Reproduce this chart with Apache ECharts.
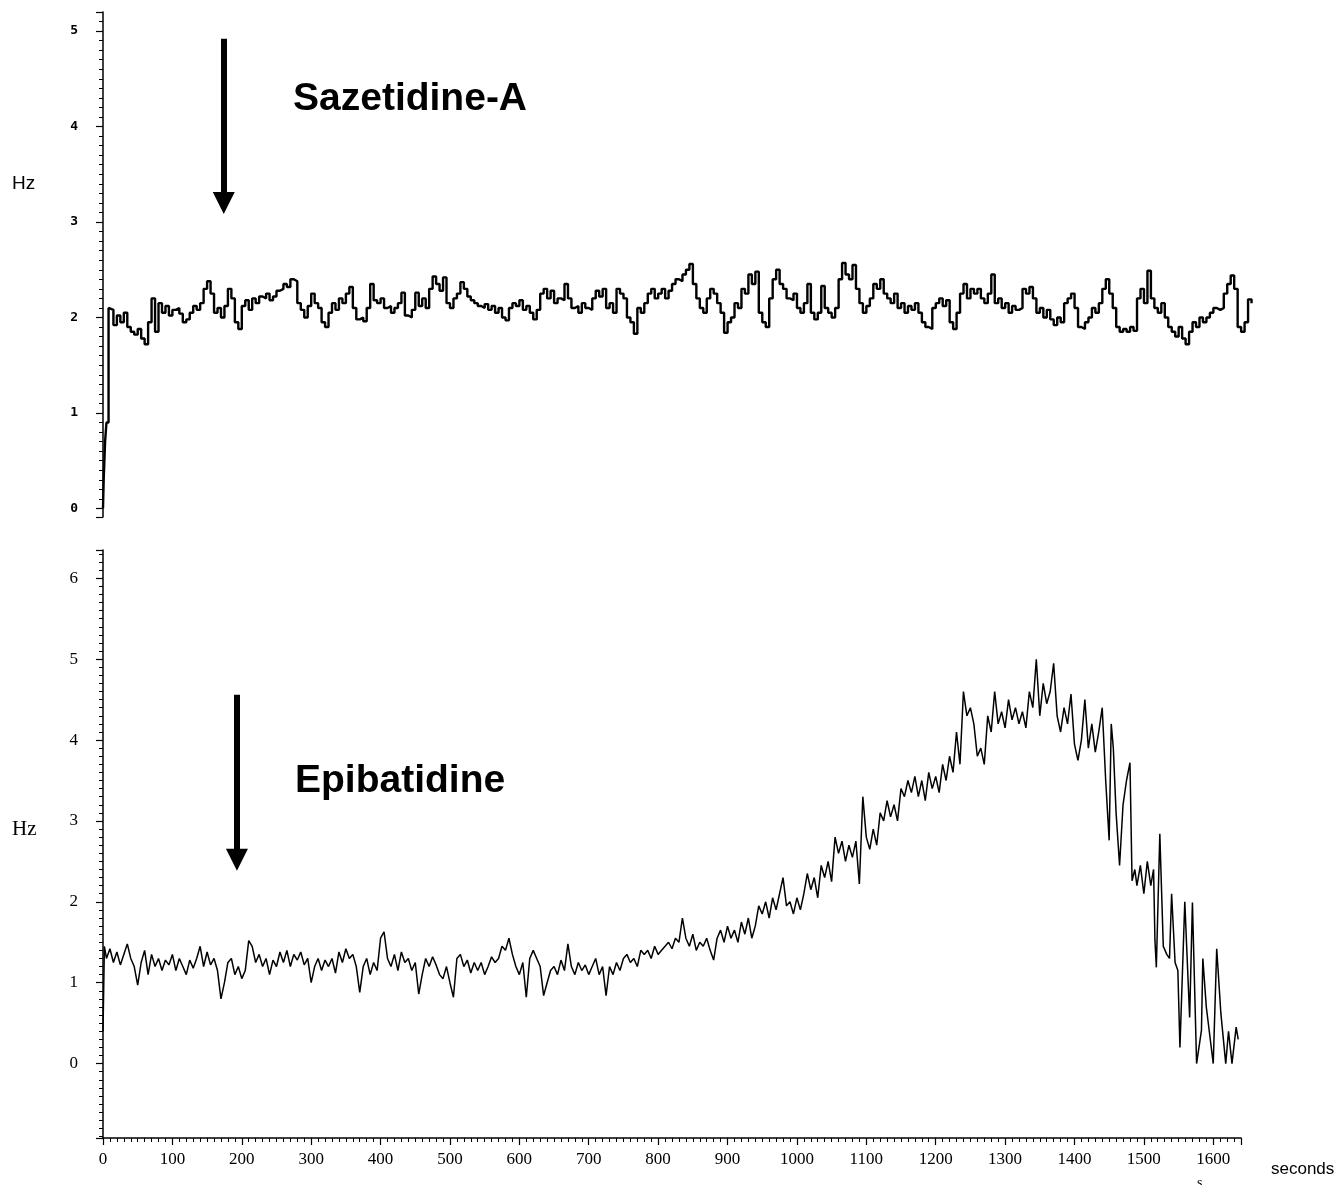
<!DOCTYPE html>
<html>
<head>
<meta charset="utf-8">
<title>Sazetidine-A / Epibatidine</title>
<script src="https://cdn.jsdelivr.net/npm/echarts@6/dist/echarts.min.js"></script>
<style>
  html, body { margin: 0; padding: 0; background: #fff; }
  #main { width: 1339px; height: 1185px; }
</style>
</head>
<body>
<div id="main"></div>
<script>
var sampleStep = 5;

// top trace: Sazetidine-A
var topOnsetSec = [0, 1, 3, 5, 8];
var topOnsetHz = [0, 0.3, 0.7, 0.9, 2.1];
var topStartSec = 10;
var topHz = [
  2.08, 1.92, 2.02, 1.95, 2.05, 1.9, 1.85, 1.82, 1.88, 1.78,
  1.72, 1.95, 2.2, 1.85, 2.15, 2.05, 2.12, 2.02, 2.08, 2.1,
  2.04, 1.95, 1.98, 2.05, 2.12, 2.08, 2.15, 2.3, 2.38, 2.25,
  2.05, 2.1, 2.0, 2.12, 2.3, 2.2, 1.95, 1.88, 2.12, 2.18,
  2.08, 2.2, 2.15, 2.22, 2.2, 2.25, 2.18, 2.22, 2.28, 2.3,
  2.35, 2.32, 2.4, 2.38, 2.15, 2.08, 2.0, 2.12, 2.25, 2.15,
  2.1, 1.95, 1.9, 2.05, 2.15, 2.08, 2.2, 2.15, 2.25, 2.32,
  2.1, 1.98, 2.0, 1.96, 2.1, 2.35, 2.18, 2.15, 2.2, 2.1,
  2.12, 2.05, 2.1, 2.15, 2.26, 2.02, 2.0, 2.08, 2.26, 2.12,
  2.2, 2.1, 2.3, 2.43, 2.35, 2.28, 2.42, 2.15, 2.1, 2.2,
  2.25, 2.37, 2.3, 2.22, 2.18, 2.15, 2.12, 2.1, 2.14, 2.08,
  2.12, 2.05, 2.1, 2.0, 1.97, 2.1, 2.15, 2.12, 2.18, 2.08,
  2.12, 2.05, 1.98, 2.08, 2.25, 2.3, 2.2, 2.28, 2.15, 2.2,
  2.18, 2.35, 2.2, 2.1, 2.12, 2.05, 2.15, 2.1, 2.08, 2.2,
  2.28, 2.22, 2.3, 2.1, 2.15, 2.05, 2.3, 2.25, 2.2, 2.0,
  1.95, 1.83, 2.1, 2.05, 2.15, 2.25, 2.3, 2.2, 2.25, 2.3,
  2.2, 2.28, 2.35, 2.4, 2.38, 2.45, 2.5, 2.56, 2.35, 2.2,
  2.1, 2.05, 2.2, 2.3, 2.25, 2.15, 2.05, 1.84, 1.95, 2.0,
  2.15, 2.1, 2.3, 2.25, 2.45, 2.35, 2.48, 2.05, 1.95, 1.9,
  2.2, 2.4, 2.5, 2.35, 2.3, 2.2, 2.18, 2.25, 2.1, 2.05,
  2.15, 2.35, 2.05, 1.98, 2.05, 2.33, 2.1, 2.05, 2.0, 2.1,
  2.4, 2.57, 2.45, 2.4, 2.55, 2.3, 2.15, 2.05, 2.12, 2.2,
  2.35, 2.3, 2.4, 2.25, 2.2, 2.15, 2.25, 2.1, 2.15, 2.05,
  2.12, 2.08, 2.15, 2.05, 1.95, 1.9, 1.88, 2.1, 2.15, 2.2,
  2.12, 2.18, 1.95, 1.88, 2.05, 2.25, 2.35, 2.2, 2.3, 2.25,
  2.3, 2.2, 2.15, 2.25, 2.45, 2.15, 2.2, 2.1, 2.15, 2.05,
  2.12, 2.08, 2.1, 2.3, 2.25, 2.32, 2.2, 2.05, 2.1, 2.0,
  2.08, 1.98, 1.92, 2.0, 1.95, 2.15, 2.2, 2.25, 2.1, 1.9,
  1.88, 1.95, 2.0, 2.1, 2.05, 2.15, 2.3, 2.4, 2.25, 2.1,
  1.9, 1.85, 1.88, 1.85, 1.9, 1.86, 2.2, 2.3, 2.15, 2.49,
  2.2, 2.1, 2.05, 2.15, 2.0, 1.9, 1.85, 1.8, 1.9, 1.78,
  1.72, 1.85, 1.95, 1.9, 2.0, 1.95, 2.0, 2.05, 2.1, 2.08,
  2.1, 2.25, 2.35, 2.44, 2.3, 1.9, 1.85, 1.95, 2.19, 2.15
];

// bottom trace: Epibatidine
var bottomOnsetSec = [0, 2];
var bottomOnsetHz = [0.4, 1.45];
var bottomStartSec = 5;
var bottomHz = [
  1.3, 1.42, 1.25, 1.38, 1.22, 1.35, 1.48, 1.3, 1.2, 0.97,
  1.25, 1.4, 1.1, 1.35, 1.2, 1.3, 1.15, 1.28, 1.22, 1.35,
  1.15, 1.3, 1.2, 1.1, 1.28, 1.18, 1.3, 1.45, 1.2, 1.38,
  1.22, 1.3, 1.15, 0.8, 1.0, 1.25, 1.3, 1.1, 1.2, 1.05,
  1.15, 1.52, 1.45, 1.25, 1.35, 1.2, 1.3, 1.1, 1.28, 1.2,
  1.38, 1.25, 1.4, 1.2, 1.35, 1.28, 1.38, 1.22, 1.3, 1.0,
  1.2, 1.3, 1.15, 1.28, 1.2, 1.3, 1.12, 1.38, 1.25, 1.42,
  1.3, 1.35, 1.2, 0.88, 1.2, 1.3, 1.1, 1.25, 1.15, 1.55,
  1.63, 1.3, 1.2, 1.35, 1.15, 1.38, 1.25, 1.3, 1.15, 1.25,
  0.86, 1.1, 1.3, 1.2, 1.32, 1.22, 1.1, 1.05, 1.2, 1.0,
  0.82, 1.3, 1.35, 1.2, 1.28, 1.12, 1.25, 1.15, 1.25, 1.1,
  1.2, 1.32, 1.25, 1.3, 1.45, 1.4, 1.55, 1.35, 1.2, 1.1,
  1.25, 0.82, 1.3, 1.4, 1.3, 1.2, 0.84, 1.0, 1.15, 1.2,
  1.1, 1.28, 1.15, 1.48, 1.2, 1.1, 1.25, 1.15, 1.22, 1.1,
  1.2, 1.3, 1.1, 1.2, 0.84, 1.2, 1.1, 1.25, 1.15, 1.3,
  1.35, 1.25, 1.3, 1.2, 1.4, 1.35, 1.4, 1.3, 1.45, 1.35,
  1.4, 1.45, 1.5, 1.42, 1.55, 1.5, 1.8, 1.55, 1.45, 1.6,
  1.4, 1.5, 1.45, 1.55, 1.4, 1.28, 1.55, 1.65, 1.5, 1.7,
  1.55, 1.65, 1.5, 1.75, 1.6, 1.8, 1.55, 1.7, 1.95, 1.85,
  2.0, 1.8, 2.05, 1.9, 2.1, 2.3, 1.95, 2.0, 1.85, 2.05,
  1.9, 2.1, 2.35, 2.15, 2.3, 2.05, 2.45, 2.3, 2.5, 2.25,
  2.8, 2.6, 2.75, 2.5, 2.7, 2.55, 2.75, 2.22, 3.3, 2.8,
  2.65, 2.9, 2.7, 3.1, 3.0, 3.25, 3.05, 3.2, 3.0, 3.4,
  3.3, 3.5, 3.35, 3.55, 3.3, 3.5, 3.25, 3.6, 3.4, 3.55,
  3.35, 3.7, 3.5, 3.8, 3.6, 4.1, 3.7, 4.6, 4.3, 4.4,
  4.2, 3.8, 3.9, 3.7, 4.3, 4.1, 4.6, 4.2, 4.35, 4.15,
  4.5, 4.25, 4.4, 4.2, 4.35, 4.15, 4.6, 4.4, 5.0, 4.3,
  4.7, 4.45, 4.6, 4.95, 4.3, 4.1, 4.4, 4.2, 4.57, 3.95,
  3.75, 4.0, 4.5, 3.9, 4.2, 3.85, 4.1, 4.4
];
// sparse, spiky tail after 1440 s
var bottomTailSec = [1445, 1450, 1453, 1456, 1460, 1465, 1470, 1475, 1480, 1483,
  1487, 1490, 1495, 1500, 1505, 1510, 1514, 1516, 1518, 1523,
  1528, 1533, 1537, 1540, 1545, 1549, 1552, 1559, 1566, 1570,
  1576, 1583, 1585, 1590, 1600, 1605, 1611, 1618, 1622, 1627,
  1633, 1636];
var bottomTailHz = [3.5, 2.76, 4.2, 3.9, 3.1, 2.45, 3.2, 3.5, 3.72, 2.26,
  2.4, 2.2, 2.45, 2.1, 2.5, 2.2, 2.4, 1.52, 1.19, 2.84,
  1.45, 1.35, 1.3, 2.1, 1.25, 1.15, 0.2, 2.0, 0.57, 1.99,
  0.0, 0.41, 1.3, 0.7, 0.0, 1.42, 0.62, 0.0, 0.4, 0.0,
  0.45, 0.3];

// drug application arrows [sec, fromHz, toHz]
var topArrow = [174, 4.92, 3.2];
var bottomArrow = [193, 4.56, 2.52];

var xTickLabels = ['0', '100', '200', '300', '400', '500', '600', '700', '800',
  '900', '1000', '1100', '1200', '1300', '1400', '1500', '1600'];

function pairs(t, v) {
  var out = [];
  for (var i = 0; i < v.length; i++) out.push([t[i], v[i]]);
  return out;
}
function sampled(start, v) {
  var out = [];
  for (var i = 0; i < v.length; i++) out.push([start + i * sampleStep, v[i]]);
  return out;
}

var topData = pairs(topOnsetSec, topOnsetHz).concat(sampled(topStartSec, topHz));
var bottomData = pairs(bottomOnsetSec, bottomOnsetHz)
  .concat(sampled(bottomStartSec, bottomHz))
  .concat(pairs(bottomTailSec, bottomTailHz));

var chart = echarts.init(document.getElementById('main'), null, { renderer: 'canvas' });

var intLabel = function (v) {
  return Math.abs(v - Math.round(v)) < 1e-6 ? String(Math.round(v)) : '';
};

function arrowLine(a) {
  return {
    silent: true, symbol: ['none', 'triangle'], symbolSize: 22,
    label: { show: false },
    emphasis: { disabled: true },
    lineStyle: { color: '#000', width: 6, type: 'solid' },
    itemStyle: { color: '#000' },
    data: [[{ coord: [a[0], a[1]] }, { coord: [a[0], a[2]] }]]
  };
}

var option = {
  backgroundColor: '#fff',
  animation: false,
  grid: [
    { left: 103, top: 12, width: 1152, height: 505 },
    { left: 103, top: 550, width: 1138, height: 588 }
  ],
  xAxis: [
    { gridIndex: 0, type: 'value', min: 0, max: 1660, show: false },
    {
      gridIndex: 1, type: 'value', min: 0, max: 1640, interval: 100,
      axisLine: { onZero: false, lineStyle: { color: '#000', width: 1.5 } },
      axisTick: { length: 7, lineStyle: { color: '#000', width: 1.2 } },
      minorTick: { show: true, splitNumber: 10, length: 4, lineStyle: { color: '#000', width: 1 } },
      splitLine: { show: false },
      axisLabel: {
        color: '#000', fontFamily: 'Liberation Serif', fontSize: 17, margin: 13,
        showMaxLabel: false,
        formatter: function (v) {
          var i = xTickLabels.indexOf(String(v));
          return i >= 0 ? xTickLabels[i] : '';
        }
      }
    }
  ],
  yAxis: [
    {
      gridIndex: 0, type: 'value', min: -0.09, max: 5.2, splitNumber: 5,
      axisLine: { show: true, lineStyle: { color: '#000', width: 1.5 } },
      axisTick: { show: true, length: 7, lineStyle: { color: '#000', width: 1.2 } },
      minorTick: { show: true, splitNumber: 10, length: 4, lineStyle: { color: '#000', width: 1 } },
      splitLine: { show: false },
      axisLabel: {
        color: '#000', fontFamily: 'DejaVu Sans Mono', fontWeight: 'bold', fontSize: 13, margin: 25,
        formatter: intLabel
      }
    },
    {
      gridIndex: 1, type: 'value', min: -0.92, max: 6.35, splitNumber: 7,
      axisLine: { show: true, lineStyle: { color: '#000', width: 1.5 } },
      axisTick: { show: true, length: 7, lineStyle: { color: '#000', width: 1.2 } },
      minorTick: { show: true, splitNumber: 10, length: 4, lineStyle: { color: '#000', width: 1 } },
      splitLine: { show: false },
      axisLabel: {
        color: '#000', fontFamily: 'Liberation Serif', fontSize: 17, margin: 25,
        formatter: intLabel
      }
    }
  ],
  series: [
    {
      name: 'Sazetidine-A', type: 'line', xAxisIndex: 0, yAxisIndex: 0,
      data: topData, step: 'end', showSymbol: false, symbol: 'none',
      lineStyle: { color: '#000', width: 2.4 },
      markLine: arrowLine(topArrow)
    },
    {
      name: 'Epibatidine', type: 'line', xAxisIndex: 1, yAxisIndex: 1,
      data: bottomData, showSymbol: false, symbol: 'none',
      lineStyle: { color: '#000', width: 1.5 },
      markLine: arrowLine(bottomArrow)
    }
  ],
  graphic: [
    { type: 'text', left: 293, top: 80, style: { text: 'Sazetidine-A', font: 'bold 39px "Liberation Sans"', fill: '#000' } },
    { type: 'text', left: 295, top: 762, style: { text: 'Epibatidine', font: 'bold 39px "Liberation Sans"', fill: '#000' } },
    { type: 'text', left: 12, top: 174, style: { text: 'Hz', font: '19px "Liberation Sans"', fill: '#000' } },
    { type: 'text', left: 12, top: 819, style: { text: 'Hz', font: '21px "Liberation Serif"', fill: '#000' } },
    { type: 'text', left: 1271, top: 1161, style: { text: 'seconds', font: '17px "Liberation Sans"', fill: '#000' } },
    { type: 'text', left: 1197, top: 1176, style: { text: 's', font: '14px "Liberation Serif"', fill: '#000' } }
  ]
};

chart.setOption(option);
</script>
</body>
</html>
